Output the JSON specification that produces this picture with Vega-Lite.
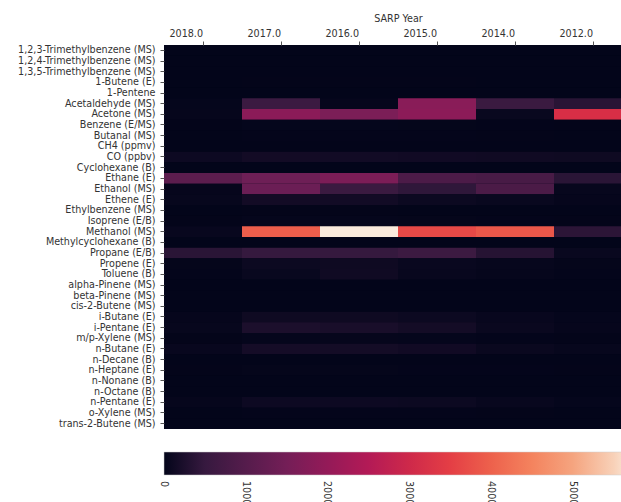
{
  "$schema": "https://vega.github.io/schema/vega-lite/v6.json",
  "width": 468,
  "height": 384,
  "padding": {"left": 17, "top": 13, "right": 0, "bottom": 0},
  "background": "white",
  "config": {"view": {"stroke": null, "fill": "#03051A"}, "font": "DejaVu Sans", "axis": {"grid": false}},
  "datasets": {
    "heat": [
      {"compound": "1,2,3-Trimethylbenzene (MS)", "year": "2018.0", "value": 1},
      {"compound": "1,2,3-Trimethylbenzene (MS)", "year": "2017.0", "value": 2},
      {"compound": "1,2,3-Trimethylbenzene (MS)", "year": "2016.0", "value": 2},
      {"compound": "1,2,3-Trimethylbenzene (MS)", "year": "2015.0", "value": 2},
      {"compound": "1,2,3-Trimethylbenzene (MS)", "year": "2014.0", "value": 1},
      {"compound": "1,2,3-Trimethylbenzene (MS)", "year": "2012.0", "value": 1},
      {"compound": "1,2,4-Trimethylbenzene (MS)", "year": "2018.0", "value": 1},
      {"compound": "1,2,4-Trimethylbenzene (MS)", "year": "2017.0", "value": 3},
      {"compound": "1,2,4-Trimethylbenzene (MS)", "year": "2016.0", "value": 3},
      {"compound": "1,2,4-Trimethylbenzene (MS)", "year": "2015.0", "value": 2},
      {"compound": "1,2,4-Trimethylbenzene (MS)", "year": "2014.0", "value": 2},
      {"compound": "1,2,4-Trimethylbenzene (MS)", "year": "2012.0", "value": 1},
      {"compound": "1,3,5-Trimethylbenzene (MS)", "year": "2018.0", "value": 1},
      {"compound": "1,3,5-Trimethylbenzene (MS)", "year": "2017.0", "value": 1},
      {"compound": "1,3,5-Trimethylbenzene (MS)", "year": "2016.0", "value": 1},
      {"compound": "1,3,5-Trimethylbenzene (MS)", "year": "2015.0", "value": 1},
      {"compound": "1,3,5-Trimethylbenzene (MS)", "year": "2014.0", "value": 1},
      {"compound": "1,3,5-Trimethylbenzene (MS)", "year": "2012.0", "value": 1},
      {"compound": "1-Butene (E)", "year": "2018.0", "value": 3},
      {"compound": "1-Butene (E)", "year": "2017.0", "value": 6},
      {"compound": "1-Butene (E)", "year": "2016.0", "value": 6},
      {"compound": "1-Butene (E)", "year": "2015.0", "value": 5},
      {"compound": "1-Butene (E)", "year": "2014.0", "value": 4},
      {"compound": "1-Butene (E)", "year": "2012.0", "value": 2},
      {"compound": "1-Pentene", "year": "2018.0", "value": 2},
      {"compound": "1-Pentene", "year": "2017.0", "value": 3},
      {"compound": "1-Pentene", "year": "2016.0", "value": 3},
      {"compound": "1-Pentene", "year": "2015.0", "value": 3},
      {"compound": "1-Pentene", "year": "2014.0", "value": 2},
      {"compound": "1-Pentene", "year": "2012.0", "value": 2},
      {"compound": "Acetaldehyde (MS)", "year": "2018.0", "value": 20},
      {"compound": "Acetaldehyde (MS)", "year": "2017.0", "value": 580},
      {"compound": "Acetaldehyde (MS)", "year": "2016.0", "value": 30},
      {"compound": "Acetaldehyde (MS)", "year": "2015.0", "value": 1820},
      {"compound": "Acetaldehyde (MS)", "year": "2014.0", "value": 560},
      {"compound": "Acetaldehyde (MS)", "year": "2012.0", "value": 360},
      {"compound": "Acetone (MS)", "year": "2018.0", "value": 30},
      {"compound": "Acetone (MS)", "year": "2017.0", "value": 1850},
      {"compound": "Acetone (MS)", "year": "2016.0", "value": 1600},
      {"compound": "Acetone (MS)", "year": "2015.0", "value": 1870},
      {"compound": "Acetone (MS)", "year": "2014.0", "value": 60},
      {"compound": "Acetone (MS)", "year": "2012.0", "value": 3175},
      {"compound": "Benzene (E/MS)", "year": "2018.0", "value": 5},
      {"compound": "Benzene (E/MS)", "year": "2017.0", "value": 20},
      {"compound": "Benzene (E/MS)", "year": "2016.0", "value": 20},
      {"compound": "Benzene (E/MS)", "year": "2015.0", "value": 15},
      {"compound": "Benzene (E/MS)", "year": "2014.0", "value": 10},
      {"compound": "Benzene (E/MS)", "year": "2012.0", "value": 5},
      {"compound": "Butanal (MS)", "year": "2018.0", "value": 2},
      {"compound": "Butanal (MS)", "year": "2017.0", "value": 10},
      {"compound": "Butanal (MS)", "year": "2016.0", "value": 10},
      {"compound": "Butanal (MS)", "year": "2015.0", "value": 8},
      {"compound": "Butanal (MS)", "year": "2014.0", "value": 5},
      {"compound": "Butanal (MS)", "year": "2012.0", "value": 3},
      {"compound": "CH4 (ppmv)", "year": "2018.0", "value": 2},
      {"compound": "CH4 (ppmv)", "year": "2017.0", "value": 2},
      {"compound": "CH4 (ppmv)", "year": "2016.0", "value": 2},
      {"compound": "CH4 (ppmv)", "year": "2015.0", "value": 2},
      {"compound": "CH4 (ppmv)", "year": "2014.0", "value": 2},
      {"compound": "CH4 (ppmv)", "year": "2012.0", "value": 2},
      {"compound": "CO (ppbv)", "year": "2018.0", "value": 100},
      {"compound": "CO (ppbv)", "year": "2017.0", "value": 150},
      {"compound": "CO (ppbv)", "year": "2016.0", "value": 140},
      {"compound": "CO (ppbv)", "year": "2015.0", "value": 130},
      {"compound": "CO (ppbv)", "year": "2014.0", "value": 120},
      {"compound": "CO (ppbv)", "year": "2012.0", "value": 110},
      {"compound": "Cyclohexane (B)", "year": "2018.0", "value": 1},
      {"compound": "Cyclohexane (B)", "year": "2017.0", "value": 2},
      {"compound": "Cyclohexane (B)", "year": "2016.0", "value": 2},
      {"compound": "Cyclohexane (B)", "year": "2015.0", "value": 1},
      {"compound": "Cyclohexane (B)", "year": "2014.0", "value": 1},
      {"compound": "Cyclohexane (B)", "year": "2012.0", "value": 1},
      {"compound": "Ethane (E)", "year": "2018.0", "value": 1100},
      {"compound": "Ethane (E)", "year": "2017.0", "value": 1400},
      {"compound": "Ethane (E)", "year": "2016.0", "value": 1620},
      {"compound": "Ethane (E)", "year": "2015.0", "value": 850},
      {"compound": "Ethane (E)", "year": "2014.0", "value": 780},
      {"compound": "Ethane (E)", "year": "2012.0", "value": 370},
      {"compound": "Ethanol (MS)", "year": "2018.0", "value": 30},
      {"compound": "Ethanol (MS)", "year": "2017.0", "value": 1350},
      {"compound": "Ethanol (MS)", "year": "2016.0", "value": 560},
      {"compound": "Ethanol (MS)", "year": "2015.0", "value": 420},
      {"compound": "Ethanol (MS)", "year": "2014.0", "value": 830},
      {"compound": "Ethanol (MS)", "year": "2012.0", "value": 40},
      {"compound": "Ethene (E)", "year": "2018.0", "value": 40},
      {"compound": "Ethene (E)", "year": "2017.0", "value": 150},
      {"compound": "Ethene (E)", "year": "2016.0", "value": 140},
      {"compound": "Ethene (E)", "year": "2015.0", "value": 90},
      {"compound": "Ethene (E)", "year": "2014.0", "value": 60},
      {"compound": "Ethene (E)", "year": "2012.0", "value": 30},
      {"compound": "Ethylbenzene (MS)", "year": "2018.0", "value": 2},
      {"compound": "Ethylbenzene (MS)", "year": "2017.0", "value": 5},
      {"compound": "Ethylbenzene (MS)", "year": "2016.0", "value": 5},
      {"compound": "Ethylbenzene (MS)", "year": "2015.0", "value": 4},
      {"compound": "Ethylbenzene (MS)", "year": "2014.0", "value": 3},
      {"compound": "Ethylbenzene (MS)", "year": "2012.0", "value": 2},
      {"compound": "Isoprene (E/B)", "year": "2018.0", "value": 5},
      {"compound": "Isoprene (E/B)", "year": "2017.0", "value": 20},
      {"compound": "Isoprene (E/B)", "year": "2016.0", "value": 20},
      {"compound": "Isoprene (E/B)", "year": "2015.0", "value": 15},
      {"compound": "Isoprene (E/B)", "year": "2014.0", "value": 10},
      {"compound": "Isoprene (E/B)", "year": "2012.0", "value": 5},
      {"compound": "Methanol (MS)", "year": "2018.0", "value": 50},
      {"compound": "Methanol (MS)", "year": "2017.0", "value": 3950},
      {"compound": "Methanol (MS)", "year": "2016.0", "value": 5725},
      {"compound": "Methanol (MS)", "year": "2015.0", "value": 3650},
      {"compound": "Methanol (MS)", "year": "2014.0", "value": 3850},
      {"compound": "Methanol (MS)", "year": "2012.0", "value": 390},
      {"compound": "Methylcyclohexane (B)", "year": "2018.0", "value": 1},
      {"compound": "Methylcyclohexane (B)", "year": "2017.0", "value": 2},
      {"compound": "Methylcyclohexane (B)", "year": "2016.0", "value": 2},
      {"compound": "Methylcyclohexane (B)", "year": "2015.0", "value": 2},
      {"compound": "Methylcyclohexane (B)", "year": "2014.0", "value": 1},
      {"compound": "Methylcyclohexane (B)", "year": "2012.0", "value": 1},
      {"compound": "Propane (E/B)", "year": "2018.0", "value": 370},
      {"compound": "Propane (E/B)", "year": "2017.0", "value": 480},
      {"compound": "Propane (E/B)", "year": "2016.0", "value": 480},
      {"compound": "Propane (E/B)", "year": "2015.0", "value": 590},
      {"compound": "Propane (E/B)", "year": "2014.0", "value": 330},
      {"compound": "Propane (E/B)", "year": "2012.0", "value": 60},
      {"compound": "Propene (E)", "year": "2018.0", "value": 15},
      {"compound": "Propene (E)", "year": "2017.0", "value": 90},
      {"compound": "Propene (E)", "year": "2016.0", "value": 110},
      {"compound": "Propene (E)", "year": "2015.0", "value": 60},
      {"compound": "Propene (E)", "year": "2014.0", "value": 40},
      {"compound": "Propene (E)", "year": "2012.0", "value": 15},
      {"compound": "Toluene (B)", "year": "2018.0", "value": 10},
      {"compound": "Toluene (B)", "year": "2017.0", "value": 60},
      {"compound": "Toluene (B)", "year": "2016.0", "value": 120},
      {"compound": "Toluene (B)", "year": "2015.0", "value": 50},
      {"compound": "Toluene (B)", "year": "2014.0", "value": 30},
      {"compound": "Toluene (B)", "year": "2012.0", "value": 10},
      {"compound": "alpha-Pinene (MS)", "year": "2018.0", "value": 1},
      {"compound": "alpha-Pinene (MS)", "year": "2017.0", "value": 2},
      {"compound": "alpha-Pinene (MS)", "year": "2016.0", "value": 2},
      {"compound": "alpha-Pinene (MS)", "year": "2015.0", "value": 2},
      {"compound": "alpha-Pinene (MS)", "year": "2014.0", "value": 1},
      {"compound": "alpha-Pinene (MS)", "year": "2012.0", "value": 1},
      {"compound": "beta-Pinene (MS)", "year": "2018.0", "value": 1},
      {"compound": "beta-Pinene (MS)", "year": "2017.0", "value": 1},
      {"compound": "beta-Pinene (MS)", "year": "2016.0", "value": 1},
      {"compound": "beta-Pinene (MS)", "year": "2015.0", "value": 1},
      {"compound": "beta-Pinene (MS)", "year": "2014.0", "value": 1},
      {"compound": "beta-Pinene (MS)", "year": "2012.0", "value": 1},
      {"compound": "cis-2-Butene (MS)", "year": "2018.0", "value": 1},
      {"compound": "cis-2-Butene (MS)", "year": "2017.0", "value": 2},
      {"compound": "cis-2-Butene (MS)", "year": "2016.0", "value": 2},
      {"compound": "cis-2-Butene (MS)", "year": "2015.0", "value": 2},
      {"compound": "cis-2-Butene (MS)", "year": "2014.0", "value": 1},
      {"compound": "cis-2-Butene (MS)", "year": "2012.0", "value": 1},
      {"compound": "i-Butane (E)", "year": "2018.0", "value": 30},
      {"compound": "i-Butane (E)", "year": "2017.0", "value": 110},
      {"compound": "i-Butane (E)", "year": "2016.0", "value": 110},
      {"compound": "i-Butane (E)", "year": "2015.0", "value": 90},
      {"compound": "i-Butane (E)", "year": "2014.0", "value": 50},
      {"compound": "i-Butane (E)", "year": "2012.0", "value": 20},
      {"compound": "i-Pentane (E)", "year": "2018.0", "value": 40},
      {"compound": "i-Pentane (E)", "year": "2017.0", "value": 240},
      {"compound": "i-Pentane (E)", "year": "2016.0", "value": 210},
      {"compound": "i-Pentane (E)", "year": "2015.0", "value": 160},
      {"compound": "i-Pentane (E)", "year": "2014.0", "value": 70},
      {"compound": "i-Pentane (E)", "year": "2012.0", "value": 30},
      {"compound": "m/p-Xylene (MS)", "year": "2018.0", "value": 5},
      {"compound": "m/p-Xylene (MS)", "year": "2017.0", "value": 20},
      {"compound": "m/p-Xylene (MS)", "year": "2016.0", "value": 25},
      {"compound": "m/p-Xylene (MS)", "year": "2015.0", "value": 20},
      {"compound": "m/p-Xylene (MS)", "year": "2014.0", "value": 10},
      {"compound": "m/p-Xylene (MS)", "year": "2012.0", "value": 5},
      {"compound": "n-Butane (E)", "year": "2018.0", "value": 50},
      {"compound": "n-Butane (E)", "year": "2017.0", "value": 170},
      {"compound": "n-Butane (E)", "year": "2016.0", "value": 160},
      {"compound": "n-Butane (E)", "year": "2015.0", "value": 130},
      {"compound": "n-Butane (E)", "year": "2014.0", "value": 70},
      {"compound": "n-Butane (E)", "year": "2012.0", "value": 40},
      {"compound": "n-Decane (B)", "year": "2018.0", "value": 1},
      {"compound": "n-Decane (B)", "year": "2017.0", "value": 1},
      {"compound": "n-Decane (B)", "year": "2016.0", "value": 1},
      {"compound": "n-Decane (B)", "year": "2015.0", "value": 1},
      {"compound": "n-Decane (B)", "year": "2014.0", "value": 1},
      {"compound": "n-Decane (B)", "year": "2012.0", "value": 1},
      {"compound": "n-Heptane (E)", "year": "2018.0", "value": 5},
      {"compound": "n-Heptane (E)", "year": "2017.0", "value": 15},
      {"compound": "n-Heptane (E)", "year": "2016.0", "value": 15},
      {"compound": "n-Heptane (E)", "year": "2015.0", "value": 10},
      {"compound": "n-Heptane (E)", "year": "2014.0", "value": 8},
      {"compound": "n-Heptane (E)", "year": "2012.0", "value": 5},
      {"compound": "n-Nonane (B)", "year": "2018.0", "value": 1},
      {"compound": "n-Nonane (B)", "year": "2017.0", "value": 1},
      {"compound": "n-Nonane (B)", "year": "2016.0", "value": 1},
      {"compound": "n-Nonane (B)", "year": "2015.0", "value": 1},
      {"compound": "n-Nonane (B)", "year": "2014.0", "value": 1},
      {"compound": "n-Nonane (B)", "year": "2012.0", "value": 1},
      {"compound": "n-Octane (B)", "year": "2018.0", "value": 2},
      {"compound": "n-Octane (B)", "year": "2017.0", "value": 2},
      {"compound": "n-Octane (B)", "year": "2016.0", "value": 2},
      {"compound": "n-Octane (B)", "year": "2015.0", "value": 2},
      {"compound": "n-Octane (B)", "year": "2014.0", "value": 1},
      {"compound": "n-Octane (B)", "year": "2012.0", "value": 1},
      {"compound": "n-Pentane (E)", "year": "2018.0", "value": 30},
      {"compound": "n-Pentane (E)", "year": "2017.0", "value": 100},
      {"compound": "n-Pentane (E)", "year": "2016.0", "value": 100},
      {"compound": "n-Pentane (E)", "year": "2015.0", "value": 90},
      {"compound": "n-Pentane (E)", "year": "2014.0", "value": 50},
      {"compound": "n-Pentane (E)", "year": "2012.0", "value": 20},
      {"compound": "o-Xylene (MS)", "year": "2018.0", "value": 3},
      {"compound": "o-Xylene (MS)", "year": "2017.0", "value": 10},
      {"compound": "o-Xylene (MS)", "year": "2016.0", "value": 10},
      {"compound": "o-Xylene (MS)", "year": "2015.0", "value": 8},
      {"compound": "o-Xylene (MS)", "year": "2014.0", "value": 5},
      {"compound": "o-Xylene (MS)", "year": "2012.0", "value": 3},
      {"compound": "trans-2-Butene (MS)", "year": "2018.0", "value": 1},
      {"compound": "trans-2-Butene (MS)", "year": "2017.0", "value": 1},
      {"compound": "trans-2-Butene (MS)", "year": "2016.0", "value": 1},
      {"compound": "trans-2-Butene (MS)", "year": "2015.0", "value": 1},
      {"compound": "trans-2-Butene (MS)", "year": "2014.0", "value": 1},
      {"compound": "trans-2-Butene (MS)", "year": "2012.0", "value": 1}
    ]
  },
  "data": {"name": "heat"},
  "mark": {"type": "rect"},
  "encoding": {
    "x": {
      "field": "year",
      "type": "ordinal",
      "sort": ["2018.0", "2017.0", "2016.0", "2015.0", "2014.0", "2012.0"],
      "scale": {"paddingInner": 0, "paddingOuter": 0},
      "axis": {
        "orient": "top",
        "title": "SARP Year",
        "grid": false,
        "labelAngle": 0,
        "labelAlign": "right",
        "labelFontSize": 9.6,
        "titleFontSize": 9.6,
        "titleFontWeight": "normal",
        "domain": false,
        "tickSize": 4,
        "labelPadding": 3,
        "titlePadding": 6,
        "minExtent": 16,
        "maxExtent": 16,
        "labelColor": "#333",
        "titleColor": "#333",
        "tickColor": "#555"
      }
    },
    "y": {
      "field": "compound",
      "type": "nominal",
      "sort": null,
      "scale": {"paddingInner": 0, "paddingOuter": 0},
      "axis": {
        "title": null,
        "grid": false,
        "labelFontSize": 9.6,
        "domain": false,
        "tickSize": 4,
        "labelPadding": 5,
        "minExtent": 147,
        "maxExtent": 147,
        "labelColor": "#333",
        "tickColor": "#555"
      }
    },
    "color": {
      "field": "value",
      "type": "quantitative",
      "scale": {
        "domain": [0, 477, 1431, 2385, 3340, 4294, 5248, 5725],
        "range": ["#03051A", "#35193E", "#701F57", "#AD1759", "#E13342", "#F37651", "#F6B48F", "#FAEBDD"],
        "interpolate": "rgb"
      },
      "legend": {
        "type": "gradient",
        "orient": "none",
        "legendX": 0,
        "legendY": 407,
        "direction": "horizontal",
        "gradientLength": 468,
        "gradientThickness": 23,
        "title": null,
        "values": [0, 1000, 2000, 3000, 4000, 5000],
        "format": "d",
        "labelFontSize": 9.6,
        "labelColor": "#333",
        "labelOverlap": false,
        "labelOffset": 6,
        "gradientStrokeColor": "#cccccc",
        "gradientStrokeWidth": 0.5,
        "encode": {
          "labels": {
            "update": {
              "angle": {"value": 90},
              "align": {"value": "left"},
              "baseline": {"value": "middle"}
            }
          }
        }
      }
    }
  }
}
